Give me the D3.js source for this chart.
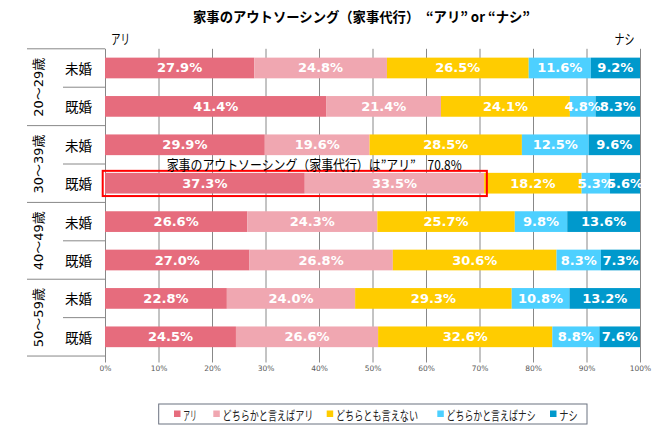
<!DOCTYPE html>
<html><head><meta charset="utf-8">
<script src="https://cdn.jsdelivr.net/npm/d3@7"></script>
<style>
html,body{margin:0;padding:0;background:#fff;}
svg{display:block;font-family:"Noto Sans CJK JP","Noto Sans",sans-serif;}
</style></head>
<body><svg id="c" width="665" height="429"></svg>
<script>
const ageGroups = ["20〜29歳","30〜39歳","40〜49歳","50〜59歳"];
const marital = ["未婚","既婚"];
const seriesNames = ["アリ","どちらかと言えばアリ","どちらとも言えない","どちらかと言えばナシ","ナシ"];
const ari       = [27.9, 41.4, 29.9, 37.3, 26.6, 27.0, 22.8, 24.5];
const ariLean   = [24.8, 21.4, 19.6, 33.5, 24.3, 26.8, 24.0, 26.6];
const neutral   = [26.5, 24.1, 28.5, 18.2, 25.7, 30.6, 29.3, 32.6];
const nashiLean = [11.6,  4.8, 12.5,  5.3,  9.8,  8.3, 10.8,  8.8];
const nashi     = [ 9.2,  8.3,  9.6,  5.6, 13.6,  7.3, 13.2,  7.6];
const tickValues = [0,0.1,0.2,0.3,0.4,0.5,0.6,0.7,0.8,0.9,1];
const titleText = "家事のアウトソーシング（家事代行）　“アリ” or “ナシ”";
const highlightRow = 3;

const colors = ["#E66C7D","#F0A7B1","#FFCC00","#4DD0FF","#0099CC"];
const seriesValues = [ari, ariLean, neutral, nashiLean, nashi];

const rows = [];
ageGroups.forEach((g,gi)=>marital.forEach((m,mi)=>rows.push({id:gi*2+mi, group:g, status:m})));
const table = rows.map((r,i)=>{
  const o = {id:r.id};
  seriesNames.forEach((s,k)=>o[s]=seriesValues[k][i]);
  return o;
});

const svg = d3.select("#c");
const pLeft = 105, pRight = 640, pTop = 48.8, pBottom = 356;
const x = d3.scaleLinear().domain([0,1]).range([pLeft,pRight]);
const y = d3.scaleBand().domain(rows.map(r=>r.id)).range([pTop,pBottom]).paddingInner(0.461).paddingOuter(0.23);
const step = y.step();

// gridlines + tick labels
const axis = d3.axisBottom(x).tickValues(tickValues).tickFormat(d3.format(".0%"))
  .tickSizeInner(-(pBottom-pTop)).tickSizeOuter(0).tickPadding(9.4);
const ag = svg.append("g").attr("transform",`translate(0,${pBottom})`).call(axis);
ag.select(".domain").remove();
ag.selectAll(".tick line").attr("stroke","#888888").attr("stroke-width",1).attr("y1",6.5);
ag.selectAll(".tick text").attr("fill","#595959").style("font-family","'DejaVu Sans',sans-serif").style("font-size","7.5px");

// stacked bars
const stack = d3.stack().keys(seriesNames).offset(d3.stackOffsetExpand);
const layers = stack(table);
const lg = svg.append("g").selectAll("g").data(layers).join("g").attr("fill",(d,i)=>colors[i]);
lg.selectAll("rect").data(d=>d).join("rect")
  .attr("x",d=>x(d[0])).attr("width",d=>x(d[1])-x(d[0]))
  .attr("y",d=>y(d.data.id)).attr("height",y.bandwidth());

// data labels
const labG = svg.append("g");
layers.forEach((layer)=>{
  layer.forEach(d=>{
    labG.append("text")
      .attr("x",(x(d[0])+x(d[1]))/2)
      .attr("y",y(d.data.id)+y.bandwidth()/2)
      .attr("text-anchor","middle").attr("dominant-baseline","central")
      .attr("fill","#fff").attr("font-weight","bold")
      .style("font-family","'DejaVu Sans',sans-serif").style("font-size","13px")
      .text(d.data[layer.key].toFixed(1)+"%");
  });
});

// category axis (multi-level)
const catG = svg.append("g").attr("stroke","#888888").attr("stroke-width",1);
for(let k=0;k<=rows.length;k++){
  const yy = pTop + k*step;
  catG.append("line").attr("x1", k%2===0?27:63).attr("x2",pLeft).attr("y1",yy).attr("y2",yy);
}
rows.forEach(r=>{
  svg.append("text").attr("x",78.5).attr("y",y(r.id)+y.bandwidth()/2)
    .attr("text-anchor","middle").attr("dominant-baseline","central")
    .attr("fill","#000").style("font-size","13.5px").text(r.status);
});
ageGroups.forEach((g,gi)=>{
  const cy = pTop + (gi*2+1)*step;
  svg.append("text").attr("transform",`translate(38.5,${cy}) rotate(-90)`)
    .attr("text-anchor","middle").attr("dominant-baseline","central")
    .attr("fill","#000").style("font-family","'DejaVu Sans','Noto Sans CJK JP',sans-serif").style("font-size","13px").text(g);
});

// highlight box & annotation
const hv = table[highlightRow];
const hiEnd = (hv[seriesNames[0]]+hv[seriesNames[1]]);
const hiTotal = d3.sum(seriesNames,s=>hv[s]);
svg.append("rect")
  .attr("x",x(0)-2.3).attr("y",y(highlightRow)-2)
  .attr("width",x(hiEnd/hiTotal)-x(0)+5).attr("height",y.bandwidth()+4.5)
  .attr("fill","none").attr("stroke","#FF0000").attr("stroke-width",2);
svg.append("text").attr("x",166.7).attr("y",y(highlightRow)-8.7)
  .attr("dominant-baseline","central").attr("fill","#000").style("font-size","13.5px")
  .attr("textLength",295).attr("lengthAdjust","spacingAndGlyphs")
  .text(`${titleText.slice(0,17)}は”${seriesNames[0]}”　${hiEnd.toFixed(1)}%`);

// title & headers
svg.append("text").attr("x",193).attr("y",15.5).attr("dominant-baseline","central")
  .attr("font-weight","bold").attr("fill","#000").style("font-size","14px")
  .attr("textLength",337).attr("lengthAdjust","spacingAndGlyphs").text(titleText);
svg.append("text").attr("x",111).attr("y",37.5).attr("dominant-baseline","central")
  .attr("fill","#000").style("font-size","14px").attr("textLength",19).attr("lengthAdjust","spacingAndGlyphs").text(seriesNames[0]);
svg.append("text").attr("x",634.5).attr("y",37.5).attr("text-anchor","end").attr("dominant-baseline","central")
  .attr("fill","#000").style("font-size","14px").attr("textLength",20).attr("lengthAdjust","spacingAndGlyphs").text(seriesNames[4]);

// legend
svg.append("rect").attr("x",158.7).attr("y",404).attr("width",428.3).attr("height",20)
  .attr("fill","#fff").attr("stroke","#6b7280").attr("stroke-width",1);
const legX = [174,213.3,326.7,437.3,550];
const legW = [13.4,90.7,82,89,18.4];
seriesNames.forEach((s,i)=>{
  svg.append("rect").attr("x",legX[i]).attr("y",410.5).attr("width",6.5).attr("height",6.5).attr("fill",colors[i]);
  svg.append("text").attr("x",legX[i]+9.3).attr("y",414).attr("dominant-baseline","central")
    .attr("fill","#222").style("font-size","13px")
    .attr("textLength",legW[i]).attr("lengthAdjust","spacingAndGlyphs").text(s);
});
</script></body></html>
